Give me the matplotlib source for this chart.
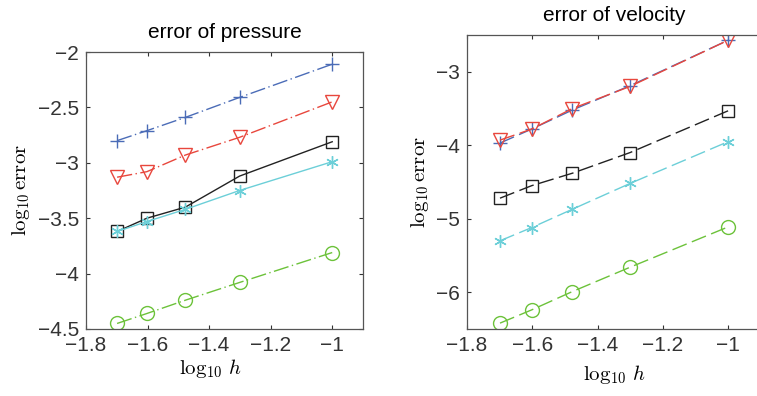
import numpy as np
import matplotlib
matplotlib.use("Agg")
import matplotlib.pyplot as plt

plt.rcParams['font.family'] = ['Liberation Sans', 'DejaVu Sans']
plt.rcParams['mathtext.fontset'] = 'cm'

# log10 h for h = 1/50, 1/40, 1/30, 1/20, 1/10
log_h = np.log10([1/50, 1/40, 1/30, 1/20, 1/10])

# error of pressure (log10)
p_blue = [-2.80, -2.71, -2.59, -2.41, -2.11]
p_red = [-3.13, -3.08, -2.93, -2.77, -2.45]
p_black = [-3.62, -3.50, -3.40, -3.12, -2.81]
p_cyan = [-3.62, -3.53, -3.42, -3.25, -2.99]
p_green = [-4.45, -4.36, -4.24, -4.08, -3.81]

# error of velocity (log10)
v_blue = [-3.97, -3.78, -3.52, -3.19, -2.57]
v_red = [-3.93, -3.78, -3.50, -3.20, -2.57]
v_black = [-4.72, -4.55, -4.38, -4.10, -3.53]
v_cyan = [-5.30, -5.12, -4.87, -4.52, -3.95]
v_green = [-6.42, -6.24, -5.99, -5.66, -5.11]

blue = '#4b6cb7'
red = '#e8473d'
black = '#222222'
cyan = '#6ccfd8'
green = '#6cc23a'

dashdot = (0, (11, 2.5, 1, 2.5))
dash = (0, (11, 4))
asterisk = (6, 2, 0)

fig = plt.figure(figsize=(7.57, 3.96), dpi=100)
ax1 = fig.add_axes([86/757, 67/396, 277/757, 277/396])
ax2 = fig.add_axes([467/757, 67/396, 294/757, 294/396])

mk = dict(markerfacecolor='none', lw=1.0)

ax1.plot(log_h, p_blue, color=blue, ls=dashdot, marker='+', ms=10, mew=1.0, **mk)
ax1.plot(log_h, p_red, color=red, ls=dashdot, marker='v', ms=10, mew=1.0, **mk)
ax1.plot(log_h, p_black, color=black, ls='-', marker='s', ms=8, mew=1.0, **mk)
ax1.plot(log_h, p_cyan, color=cyan, ls='-', marker=asterisk, ms=9, mew=1.0, **mk)
ax1.plot(log_h, p_green, color=green, ls=dashdot, marker='o', ms=10, mew=1.0, **mk)

ax2.plot(log_h, v_blue, color=blue, ls=dash, marker='+', ms=10, mew=1.0, **mk)
ax2.plot(log_h, v_red, color=red, ls=dash, marker='v', ms=10, mew=1.0, **mk)
ax2.plot(log_h, v_black, color=black, ls=dash, marker='s', ms=8, mew=1.0, **mk)
ax2.plot(log_h, v_cyan, color=cyan, ls=dash, marker=asterisk, ms=9, mew=1.0, **mk)
ax2.plot(log_h, v_green, color=green, ls=dash, marker='o', ms=10, mew=1.0, **mk)

ax1.set_xlim(-1.8, -0.9)
ax1.set_ylim(-4.5, -2)
ax1.set_xticks([-1.8, -1.6, -1.4, -1.2, -1])
ax1.set_xticklabels(['\u22121.8', '\u22121.6', '\u22121.4', '\u22121.2', '\u22121'])
ax1.set_yticks([-4.5, -4, -3.5, -3, -2.5, -2])
ax1.set_yticklabels(['\u22124.5', '\u22124', '\u22123.5', '\u22123', '\u22122.5', '\u22122'])
ax1.set_title('error of pressure', fontsize=15, pad=10)

ax2.set_xlim(-1.8, -0.9)
ax2.set_ylim(-6.5, -2.5)
ax2.set_xticks([-1.8, -1.6, -1.4, -1.2, -1])
ax2.set_xticklabels(['\u22121.8', '\u22121.6', '\u22121.4', '\u22121.2', '\u22121'])
ax2.set_yticks([-6, -5, -4, -3])
ax2.set_yticklabels(['\u22126', '\u22125', '\u22124', '\u22123'])
ax2.set_title('error of velocity', fontsize=15, pad=10)

for ax in (ax1, ax2):
    ax.set_xlabel(r'$\log_{10}\, h$', fontsize=15, labelpad=6)
    ax.set_ylabel(r'$\log_{10}\mathrm{error}$', fontsize=15, labelpad=4)
    ax.tick_params(direction='in', length=3, width=0.8, top=True, right=True,
                   labelsize=15, colors='#333333', pad=5)
    for s in ax.spines.values():
        s.set_color('#555555')
        s.set_linewidth(0.9)

ax1.xaxis.set_label_coords(0.45, -0.1)

fig.savefig('out.png', dpi=100)
